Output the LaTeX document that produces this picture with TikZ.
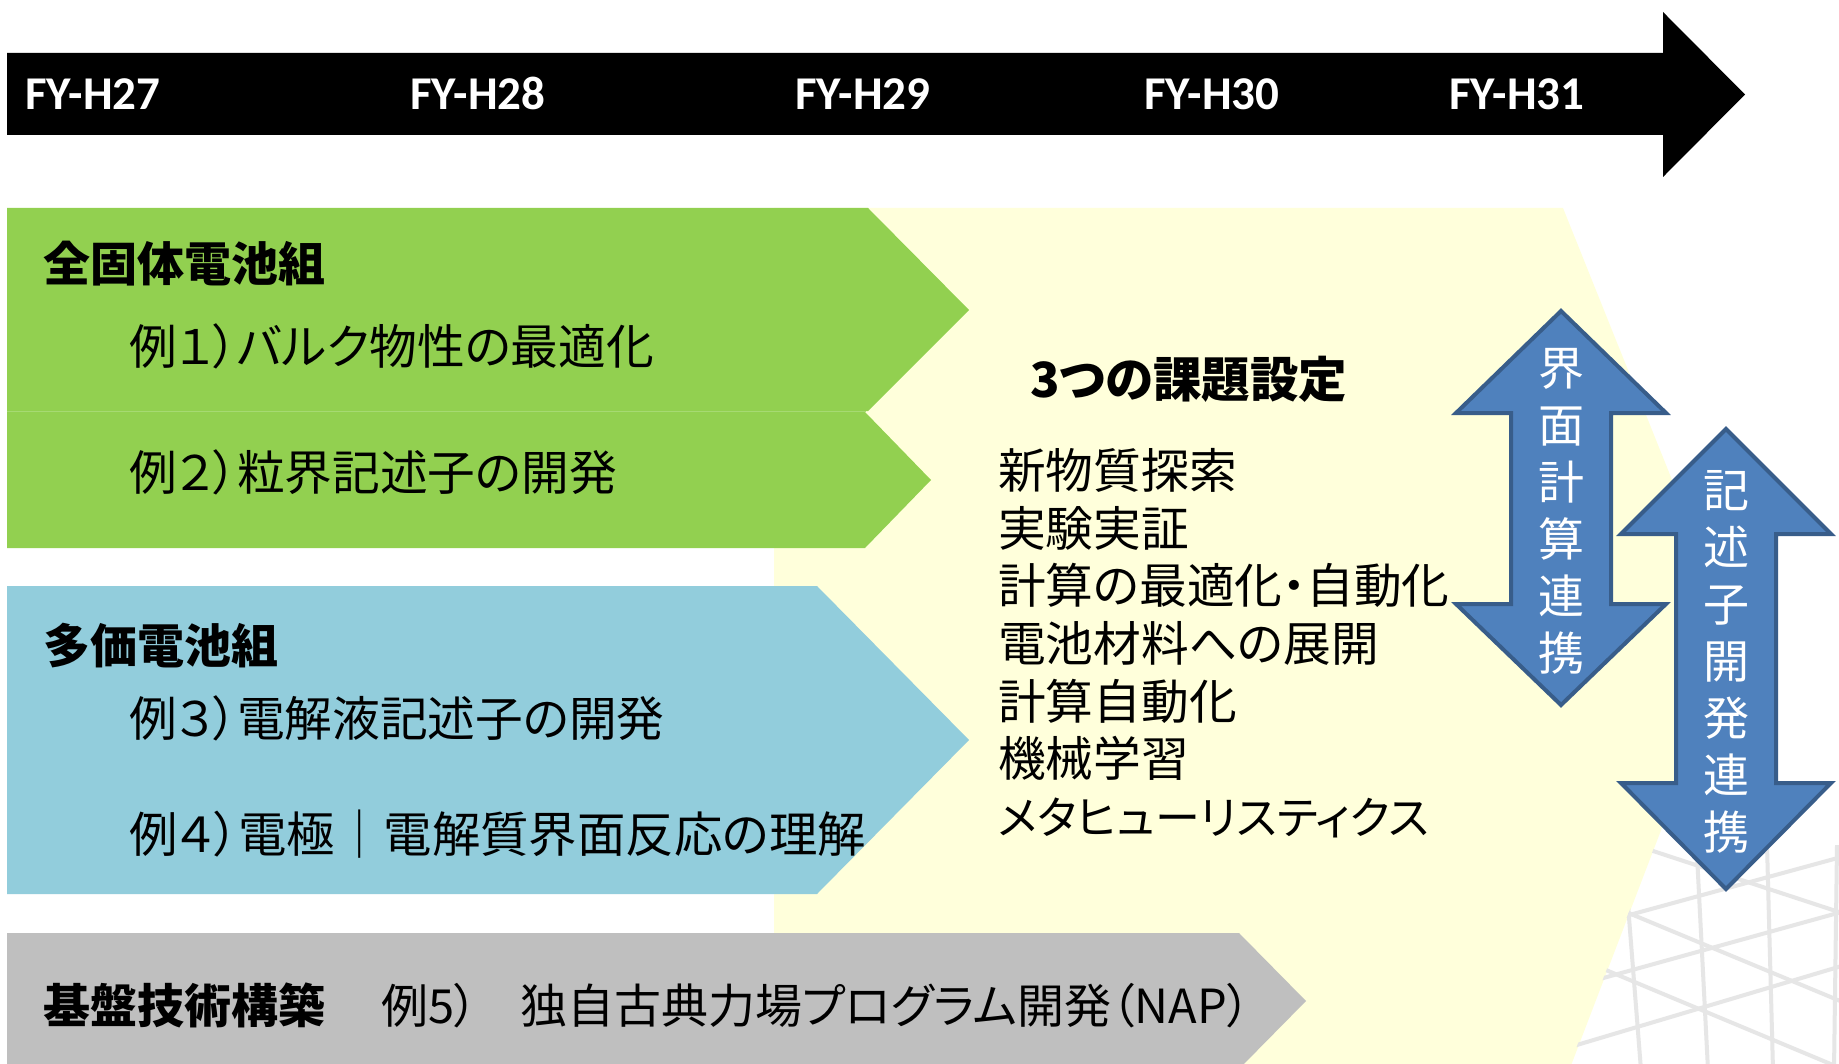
\documentclass[tikz,border=0pt]{standalone}
\usepackage{fontspec}
\setmainfont{Carlito}
\newfontfamily\jp{Noto Sans CJK JP}[RawFeature=+palt]
\definecolor{grn}{HTML}{92D050}
\definecolor{grnl}{HTML}{A6DA72}
\definecolor{lblue}{HTML}{92CDDC}
\definecolor{gry}{HTML}{BFBFBF}
\definecolor{ylw}{HTML}{FFFFDB}
\definecolor{arrf}{HTML}{4F81BD}
\definecolor{arrd}{HTML}{385D8A}
\definecolor{gridc}{HTML}{E6E6E6}
\tikzset{
  fy/.style={font=\bfseries\fontsize{47}{50}\selectfont, text=white, inner sep=0pt, anchor=base west},
  jpt/.style={font=\jp\fontsize{47.7}{56}\selectfont, inner sep=0pt, anchor=base west},
  jpb/.style={font=\jp\bfseries\fontsize{47}{56}\selectfont, inner sep=0pt, anchor=base west},
  vtxt/.style={font=\jp\fontsize{46}{57}\selectfont, text=white, inner sep=0pt, align=center, anchor=center},
  dblarrow/.style={fill=arrf, draw=arrd, line width=4pt, line join=miter},
  gridline/.style={draw=gridc, line width=4pt}
}
\begin{document}
\begin{tikzpicture}[x=1pt,y=-1pt]
\useasboundingbox (0,0) rectangle (1839,1064);
\fill[white] (0,0) rectangle (1839,1064);
% yellow background chevron
\fill[ylw] (774,208) -- (1563,208) -- (1735,637) -- (1570,1068) -- (774,1068) -- cycle;
% light grid in lower right
\begin{scope}
\clip (1655,845) -- (1839,845) -- (1839,1064) -- (1570,1064) -- cycle;
\draw[gridline] (1628,905) -- (1641,1070);
\draw[gridline] (1697,855) -- (1708,1070);
\draw[gridline] (1767,845) -- (1773,1070);
\draw[gridline] (1837,845) -- (1834,1070);
\draw[gridline] (1600,840) -- (1650,850) -- (1845,914);
\draw[gridline] (1600,923) -- (1845,856);
\draw[gridline] (1590,897) -- (1845,1003);
\draw[gridline] (1560,990) -- (1845,911);
\draw[gridline] (1570,955) -- (1845,1070);
\draw[gridline] (1560,1050) -- (1845,965);
\end{scope}
% bars
\fill[grn] (7,208) -- (868,208) -- (969,310) -- (868,411) -- (7,411) -- cycle;
\fill[grn] (7,412) -- (865,412) -- (931,480) -- (865,548) -- (7,548) -- cycle;
\draw[grnl, line width=1pt] (7,411.5) -- (866,411.5);
\fill[lblue] (7,586) -- (817,586) -- (969,740) -- (817,894) -- (7,894) -- cycle;
\fill[gry] (7,933) -- (1239,933) -- (1306,1001) -- (1239,1069) -- (7,1069) -- cycle;
% timeline
\fill[black] (7,53) -- (1663,53) -- (1663,12) -- (1745,94.5) -- (1663,177) -- (1663,135) -- (7,135) -- cycle;
\node[fy] (h27) at (25,110) {FY-H27};
\node[fy] (h28) at (410,110) {FY-H28};
\node[fy] (h29) at (795,110) {FY-H29};
\node[fy] (h30) at (1144,110) {FY-H30};
\node[fy] (h31) at (1449,110) {FY-H31};
% left texts
\node[jpb] (g1) at (43,282) {全固体電池組};
\node[jpt] (e1) at (129,365) {例１）バルク物性の最適化};
\node[jpt] (e2) at (129,490) {例２）粒界記述子の開発};
\node[jpb] (g2) at (43,663) {多価電池組};
\node[jpt] (e3) at (129,736) {例３）電解液記述子の開発};
\node[jpt, font=\jp\fontsize{48.4}{56}\selectfont] (e4) at (129,852) {例４）電極｜電解質界面反応の理解};
\node[jpb] (g3) at (43,1023) {基盤技術構築};
\node[jpt, font=\jp\fontsize{47}{56}\selectfont] (e5) at (381,1023) {例5）};
\node[jpt, font=\jp\fontsize{47}{56}\selectfont] (e5b) at (520,1023) {独自古典力場プログラム開発（NAP）};
% center texts
\node[jpb, font=\jp\bfseries\fontsize{48.5}{56}\selectfont] (tt) at (1030,398) {3つの課題設定};
\node[jpt] (t1) at (998,488) {新物質探索};
\node[jpt] (t2) at (998,546) {実験実証};
\node[jpt] (t3) at (998,603) {計算の最適化・自動化};
\node[jpt] (t4) at (998,661) {電池材料への展開};
\node[jpt] (t5) at (998,719) {計算自動化};
\node[jpt] (t6) at (998,776) {機械学習};
\node[jpt, font=\jp\fontsize{45}{56}\selectfont] (t7) at (998,834) {メタヒューリスティクス};
% double arrows
\draw[dblarrow] (1561,311) -- (1666,413) -- (1611,413) -- (1611,604) -- (1666,604) -- (1561,705) -- (1456,604) -- (1511,604) -- (1511,413) -- (1456,413) -- cycle;
\node[vtxt] (a1) at (1561,511) {界\\面\\計\\算\\連\\携};
\draw[dblarrow] (1726,429) -- (1831,534) -- (1776,534) -- (1776,783) -- (1831,783) -- (1726,889) -- (1621,783) -- (1676,783) -- (1676,534) -- (1621,534) -- cycle;
\node[vtxt] (a2) at (1726,662) {記\\述\\子\\開\\発\\連\\携};
\end{tikzpicture}
\end{document}
